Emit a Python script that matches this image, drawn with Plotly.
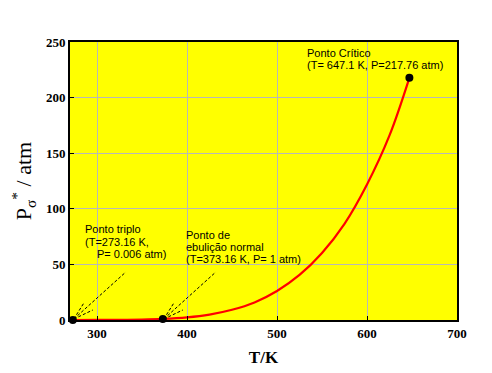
import plotly.graph_objects as go

# Water vapour pressure curve
T_curve = [273.16, 300, 325, 350, 373.16, 400, 425, 450, 475, 500, 525, 550, 575, 600, 625, 647.1]
P_curve = [0.006, 0.035, 0.13, 0.41, 1.0, 2.4, 4.9, 9.2, 15.8, 26.1, 40.5, 60.3, 86.5, 121.9, 166.0, 217.76]

pts_T = [273.16, 373.16, 647.1]
pts_P = [0.006, 1.0, 217.76]

x_ticks = [300, 400, 500, 600, 700]
y_ticks = [0, 50, 100, 150, 200, 250]

crit_lines = ["Ponto Crítico", "(T= 647.1 K, P=217.76 atm)"]
triple_lines = ["Ponto triplo", "(T=273.16 K,", "P= 0.006 atm)"]
boil_lines = ["Ponto de", "ebulição normal", "(T=373.16 K, P= 1 atm)"]

fig = go.Figure()
fig.add_trace(go.Scatter(x=T_curve, y=P_curve, mode="lines",
                         line=dict(color="#ff0000", width=2.2), line_shape="spline",
                         hoverinfo="skip", showlegend=False))
fig.add_trace(go.Scatter(x=pts_T, y=pts_P, mode="markers",
                         marker=dict(color="black", size=8), showlegend=False, cliponaxis=False))

afont = dict(family="Arial", size=11, color="black")


def add_lines(lines, x, y, xshifts, yshifts):
    for txt, xs, ys in zip(lines, xshifts, yshifts):
        fig.add_annotation(x=x, y=y, xref="x", yref="y", xanchor="left", yanchor="middle",
                           xshift=xs, yshift=ys, text=txt, showarrow=False, align="left",
                           font=afont)


add_lines(crit_lines, pts_T[2], pts_P[2], [-104, -104], [25, 13])
add_lines(triple_lines, pts_T[0], 0, [10, 10, 22], [91, 78, 66])
add_lines(boil_lines, pts_T[1], 0, [21, 21, 21], [85, 73, 61])

# dashed pointer lines anchored to the triple point and boiling point
for t in pts_T[:2]:
    for dx, dy in [(53, 48), (11, 17), (20, 10)]:
        fig.add_shape(type="line", xref="x", yref="y", xsizemode="pixel", ysizemode="pixel",
                      xanchor=t, yanchor=0, x0=1, y0=1, x1=dx, y1=dy,
                      line=dict(color="black", width=1, dash="3px,2px"))

# page body has an 8px default margin; compensate so the plot area lands where the reference has it
fig.update_layout(
    width=484, height=365,
    margin=dict(l=62, r=35, t=34, b=53),
    paper_bgcolor="white", plot_bgcolor="#ffff00",
    font=dict(family="Liberation Serif", color="black"),
    xaxis=dict(range=[270, 700], tickvals=x_ticks, showgrid=True, gridcolor="#b8b8b8", gridwidth=1,
               zeroline=False, showline=True, linecolor="black", linewidth=2, mirror=True,
               ticks="inside", ticklen=4, tickcolor="black", automargin=False,
               tickfont=dict(family="Liberation Serif", size=13, color="black", weight="bold"),
               title=dict(text="<b>T/K</b>", font=dict(family="Liberation Serif", size=17), standoff=12)),
    yaxis=dict(range=[0, 250], tickvals=y_ticks, showgrid=True, gridcolor="#b8b8b8", gridwidth=1,
               zeroline=False, showline=True, linecolor="black", linewidth=2, mirror=True,
               ticks="inside", ticklen=4, tickcolor="black", automargin=False,
               tickfont=dict(family="Liberation Serif", size=13, color="black", weight="bold"),
               title=dict(text="P<sub>σ</sub><sup>*</sup> / atm", font=dict(family="Liberation Serif", size=22),
                          standoff=8)),
)

fig.write_html("out.html")
